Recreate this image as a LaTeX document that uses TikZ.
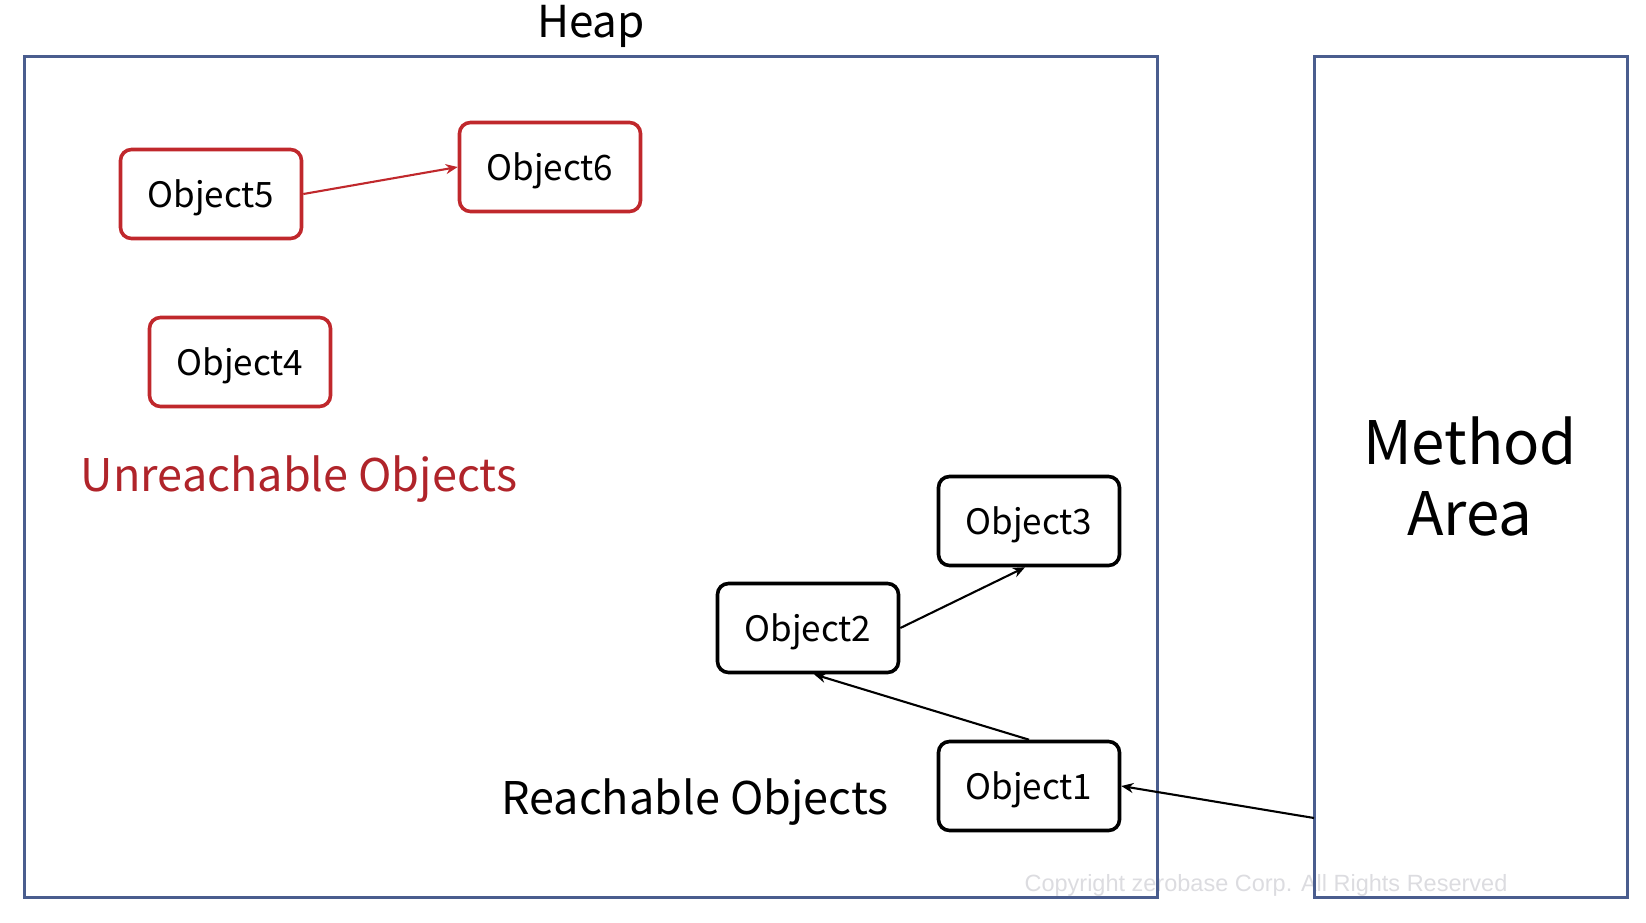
\documentclass[tikz,border=0pt]{standalone}
\usepackage{fontspec}
\setmainfont{Noto Sans CJK KR}
\newfontfamily\wmfont{Liberation Sans}
\usetikzlibrary{arrows.meta}
\definecolor{boxblue}{HTML}{4A5D8E}
\definecolor{objred}{HTML}{C0282C}
\definecolor{txtred}{HTML}{B0242A}
\definecolor{wmgray}{HTML}{DCDCE0}
\begin{document}
\begin{tikzpicture}[x=1pt,y=-1pt,
  region/.style={draw=boxblue, line width=3pt, inner sep=0pt},
  obj/.style={rounded corners=11pt, line width=3.6pt, minimum width=181pt, minimum height=89pt, font=\fontsize{35}{42}\selectfont, inner sep=0pt, text depth=0pt},
  deadobj/.style={obj, draw=objred},
  liveobj/.style={obj, draw=black},
  link/.style={line width=2.1pt, -{Stealth[length=12pt,width=10pt]}},
  deadlink/.style={link, draw=objred, fill=objred},
  biglabel/.style={font=\fontsize{45}{52}\selectfont, inner sep=0pt, text depth=0pt},
]
\useasboundingbox (0,0) rectangle (1646,922);
\node[text=wmgray, font=\wmfont\fontsize{23.5}{28}\selectfont, inner sep=0pt] (wm) at (1266,885) {Copyright zerobase Corp. All Rights Reserved};
\node[region, minimum width=1133pt, minimum height=841pt] (heap) at (590.5,476.5) {};
\node[region, minimum width=313pt, minimum height=841pt] (method) at (1470.5,476.5) {};
\node[font=\fontsize{44}{50}\selectfont, inner sep=0pt, anchor=base] (heaplbl) at (591,37) {Heap};
\node[font=\fontsize{60}{71}\selectfont, align=center, inner sep=0pt] (methodlbl) at (1470,476) {Method\\Area};

\node[deadobj] (o5) at (211,194) {Object5};
\node[deadobj] (o6) at (550,167) {Object6};
\node[deadobj] (o4) at (240,362) {Object4};
\node[biglabel, text=txtred] (unreach) at (299,474) {Unreachable Objects};

\node[liveobj] (o3) at (1029,521) {Object3};
\node[liveobj] (o2) at (808,628) {Object2};
\node[liveobj] (o1) at (1029,786) {Object1};
\node[biglabel] (reach) at (695,797) {Reachable Objects};

\coordinate (mstart) at (1314,818);
\draw[deadlink] (o5.east) -- (o6.west);
\draw[link] (o2.east) -- ([xshift=-4pt]o3.south);
\draw[link] (o1.north) -- ([xshift=6pt]o2.south);
\draw[link] (mstart) -- (o1.east);
\end{tikzpicture}
\end{document}
